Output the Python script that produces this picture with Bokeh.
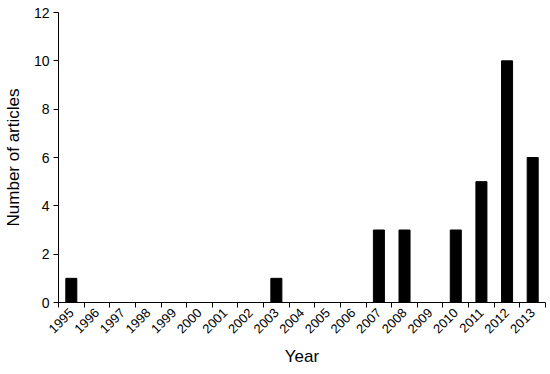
from bokeh.plotting import figure
from bokeh.models import FixedTicker, Range1d
from bokeh.embed import file_html
from bokeh.resources import INLINE

years = [1995, 1996, 1997, 1998, 1999, 2000, 2001, 2002, 2003, 2004,
         2005, 2006, 2007, 2008, 2009, 2010, 2011, 2012, 2013]
articles = [1, 0, 0, 0, 0, 0, 0, 0, 1, 0, 0, 0, 3, 3, 0, 3, 5, 10, 6]
y_ticks = [0, 2, 4, 6, 8, 10, 12]

p = figure(frame_width=487, frame_height=290, output_backend="svg", toolbar_location=None,
           x_range=Range1d(years[0] - 0.5, years[-1] + 0.5),
           y_range=Range1d(0, 12),
           min_border_left=50, min_border_right=1, min_border_top=12, min_border_bottom=0)

p.vbar(x=years, top=articles, width=0.43, bottom=0, fill_color="black", line_color="black")

p.xgrid.visible = False
p.ygrid.visible = False
p.outline_line_color = None

font = "Liberation Sans"
xa = p.xaxis[0]
xa.ticker = FixedTicker(ticks=years, minor_ticks=[y - 0.5 for y in years] + [years[-1] + 0.5])
xa.major_label_overrides = {y: str(y) for y in years}
xa.major_tick_out = 0
xa.major_tick_in = 0
xa.minor_tick_out = 5
xa.minor_tick_in = 0
xa.minor_tick_line_color = "black"
xa.major_label_orientation = 0.785398
xa.major_label_text_font = font
xa.major_label_text_font_size = "13px"
xa.major_label_text_color = "black"
xa.major_label_standoff = 3
xa.axis_label = "Year"
xa.axis_label_text_font = font
xa.axis_label_text_font_size = "17px"
xa.axis_label_text_font_style = "normal"
xa.axis_label_text_color = "black"
xa.axis_label_standoff = 7
xa.axis_line_color = "black"

ya = p.yaxis[0]
ya.ticker = FixedTicker(ticks=y_ticks, minor_ticks=[])
ya.major_tick_out = 5
ya.major_tick_in = 0
ya.major_tick_line_color = "black"
ya.major_label_text_font = font
ya.major_label_text_font_size = "14px"
ya.major_label_text_color = "black"
ya.major_label_standoff = 4
ya.axis_label = "Number of articles"
ya.axis_label_text_font = font
ya.axis_label_text_font_size = "17px"
ya.axis_label_text_font_style = "normal"
ya.axis_label_text_color = "black"
ya.axis_label_standoff = 8
ya.axis_line_color = "black"

open("out.html", "w").write(file_html(p, INLINE))
